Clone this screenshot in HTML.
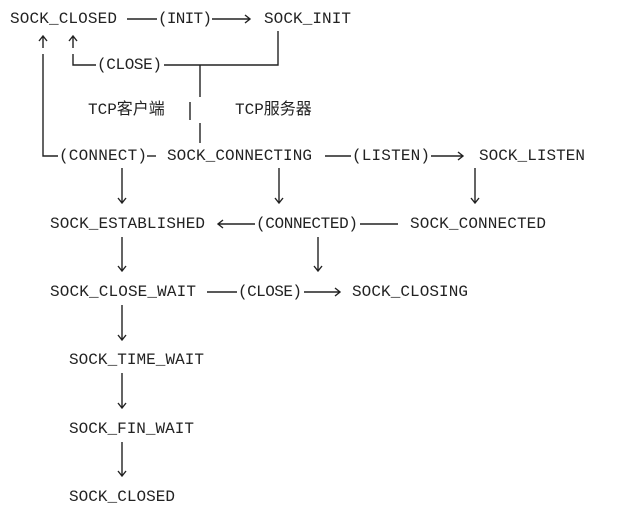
<!DOCTYPE html>
<html><head><meta charset="utf-8"><style>
html,body{margin:0;padding:0;background:#fff;}
svg{display:block;}
text{font-family:"Liberation Mono","Noto Sans CJK SC",monospace;font-size:16px;fill:#222;dominant-baseline:central;}
.l{stroke:#222;stroke-width:1.4;fill:none;}
</style></head><body>
<svg width="617" height="530" viewBox="0 0 617 530" xmlns="http://www.w3.org/2000/svg">
<!-- row 0 -->
<text x="10" y="19" textLength="107">SOCK_CLOSED</text>
<path class="l" d="M127 19H157"/>
<text x="158" y="19" textLength="54">(INIT)</text>
<path class="l" d="M212 19H250M245 15L250 19L245 23"/>
<text x="264" y="19" textLength="87">SOCK_INIT</text>
<!-- up arrows -->
<path class="l" d="M43 48V36M39 41L43 36L47 41"/>
<path class="l" d="M73 48V36M69 41L73 36L77 41"/>
<!-- left loop -->
<path class="l" d="M43 54V156H58"/>
<path class="l" d="M73 54V65H96"/>
<text x="97" y="65" textLength="65">(CLOSE)</text>
<path class="l" d="M164 65H278V31"/>
<path class="l" d="M200 65V97"/>
<path class="l" d="M190 102V120"/>
<path class="l" d="M200 123V143"/>
<text x="88" y="110">TCP客户端</text>
<text x="235" y="110">TCP服务器</text>
<!-- row 156 -->
<text x="59" y="156" textLength="88">(CONNECT)</text>
<path class="l" d="M147 156H156"/>
<text x="167" y="156" textLength="145">SOCK_CONNECTING</text>
<path class="l" d="M325 156H351"/>
<text x="352" y="156" textLength="78">(LISTEN)</text>
<path class="l" d="M431 156H463M458 152L463 156L458 160"/>
<text x="479" y="156" textLength="106">SOCK_LISTEN</text>
<!-- down arrows row -->
<path class="l" d="M122 168V188M118 198L122 203L126 198M122 188V203"/>
<path class="l" d="M279 168V188M275 198L279 203L283 198M279 188V203"/>
<path class="l" d="M475 168V188M471 198L475 203L479 198M475 188V203"/>
<!-- row 224 -->
<text x="50" y="224" textLength="155">SOCK_ESTABLISHED</text>
<path class="l" d="M218 224H255M223 220L218 224L223 228"/>
<text x="256" y="224" textLength="102">(CONNECTED)</text>
<path class="l" d="M360 224H398"/>
<text x="410" y="224" textLength="136">SOCK_CONNECTED</text>
<path class="l" d="M122 237V271M118 266L122 271L126 266"/>
<path class="l" d="M318 237V271M314 266L318 271L322 266"/>
<!-- row 292 -->
<text x="50" y="292" textLength="146">SOCK_CLOSE_WAIT</text>
<path class="l" d="M207 292H237"/>
<text x="238" y="292" textLength="64">(CLOSE)</text>
<path class="l" d="M304 292H340M335 288L340 292L335 296"/>
<text x="352" y="292" textLength="116">SOCK_CLOSING</text>
<path class="l" d="M122 305V340M118 335L122 340L126 335"/>
<text x="69" y="360" textLength="135">SOCK_TIME_WAIT</text>
<path class="l" d="M122 373V408M118 403L122 408L126 403"/>
<text x="69" y="429" textLength="125">SOCK_FIN_WAIT</text>
<path class="l" d="M122 442V476M118 471L122 476L126 471"/>
<text x="69" y="497" textLength="106">SOCK_CLOSED</text>
</svg>
</body></html>
